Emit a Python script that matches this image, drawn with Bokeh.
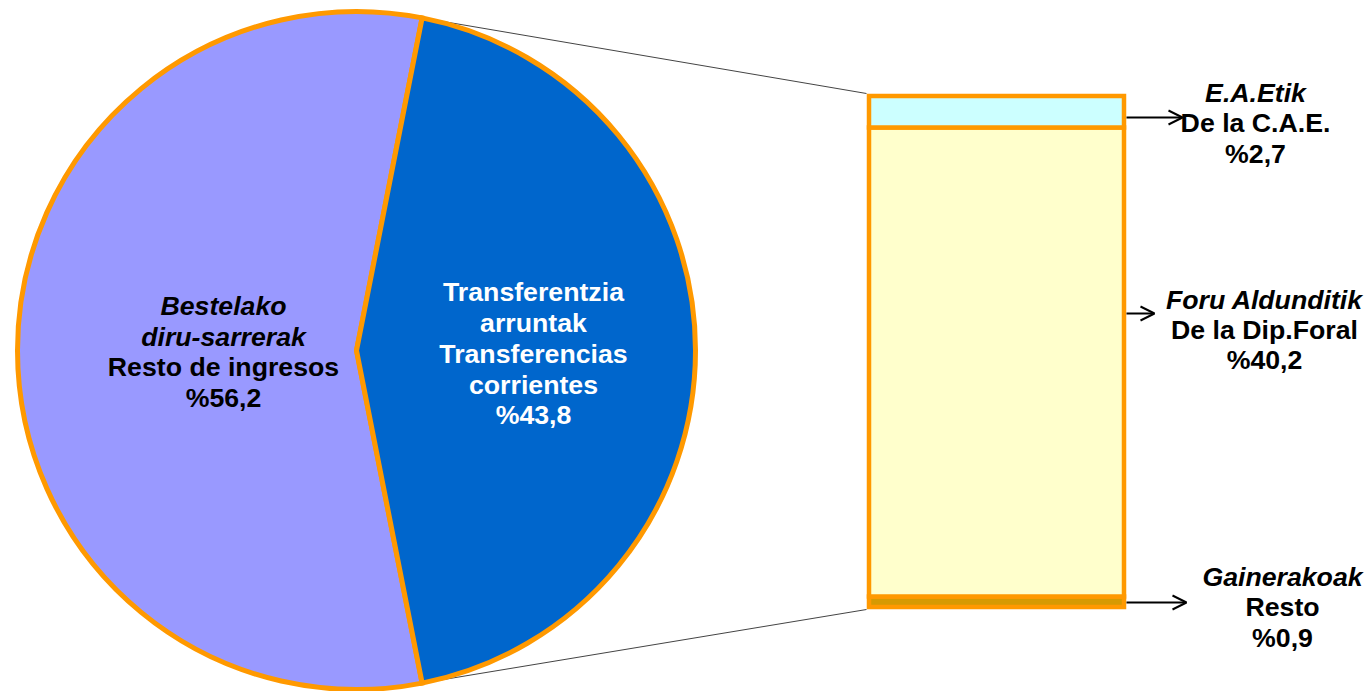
import math
from bokeh.plotting import figure
from bokeh.models import Range1d, Arrow, OpenHead
from bokeh.core.properties import value
from bokeh.embed import file_html
from bokeh.resources import INLINE

# ---------------- data ----------------
pie_categories = ["Bestelako diru-sarrerak / Resto de ingresos",
                  "Transferentzia arruntak / Transferencias corrientes"]
pie_values = [56.2, 43.8]
pie_colors = ["#9999FF", "#0066CC"]

bar_categories = ["Gainerakoak / Resto",
                  "Foru Aldunditik / De la Dip.Foral",
                  "E.A.Etik / De la C.A.E."]
bar_values = [0.9, 40.2, 2.7]          # bottom -> top
bar_colors = ["#D69A02", "#FFFFCC", "#CCFFFF"]

pie_label_italic = [["Bestelako", "diru-sarrerak"], []]
pie_label_plain = [["Resto de ingresos"], ["Transferentzia", "arruntak", "Transferencias", "corrientes"]]
bar_label_italic = ["Gainerakoak", "Foru Aldunditik", "E.A.Etik"]
bar_label_plain = ["Resto", "De la Dip.Foral", "De la C.A.E."]


def pct(v):
    return "%" + f"{v:.1f}".replace(".", ",")


# ---------------- layout ----------------
W, H = 1370, 691
IMG_H = 691


def Y(img_y):
    return IMG_H - img_y


ORANGE = "#FF9900"
FONT = value("Liberation Sans")
FS = "26.7px"

p = figure(width=W, height=H, output_backend="svg", toolbar_location=None,
           x_range=Range1d(0, W), y_range=Range1d(IMG_H - H, IMG_H),
           x_axis_type=None, y_axis_type=None, min_border=0,
           min_border_left=0, min_border_right=0, min_border_top=0, min_border_bottom=0)
p.grid.visible = False
p.outline_line_color = None
p.background_fill_color = "white"
p.border_fill_color = "white"

# pie geometry
CX, CY, R = 356, Y(350), 339
frac = pie_values[1] / sum(pie_values)
half = frac * math.pi
starts = [half, -half]
ends = [2 * math.pi - half, half]

# bar geometry
BX0, BX1 = 868.5, 1123.5
BAR_BASE = Y(606.5)
BAR_SCALE = 511.0 / sum(bar_values)
bottoms, tops = [], []
acc = 0.0
for v in bar_values:
    bottoms.append(BAR_BASE + acc * BAR_SCALE)
    acc += v
    tops.append(BAR_BASE + acc * BAR_SCALE)

# connector lines (pie slice edge points -> bar corners)
top_pt = (CX + R * math.cos(half), CY + R * math.sin(half))
bot_pt = (CX + R * math.cos(-half), CY + R * math.sin(-half))
p.segment(x0=[top_pt[0], bot_pt[0]], y0=[top_pt[1], bot_pt[1]],
          x1=[BX0 - 2.5, BX0 - 2.5], y1=[tops[-1] + 2.5, bottoms[0] - 2.5],
          line_color="#444444", line_width=1)

# pie
p.wedge(x=[CX, CX], y=[CY, CY], radius=R, start_angle=starts, end_angle=ends,
        fill_color=pie_colors, line_color=ORANGE, line_width=5, line_join="miter")

# bar
p.quad(left=[BX0] * 3, right=[BX1] * 3, bottom=bottoms, top=tops,
       fill_color=bar_colors, line_color=ORANGE, line_width=4.5, line_join="miter")

# arrows
arrow_specs = [(602, 1186), (313, 1154), (117, 1182)]
for ay, ax_end in arrow_specs:
    p.add_layout(Arrow(end=OpenHead(size=14, line_width=2, line_color="black"),
                       x_start=BX1 + 2.5, y_start=Y(ay), x_end=ax_end, y_end=Y(ay),
                       line_color="black", line_width=2))


def put(x, ys, texts, style, color="black"):
    p.text(x=[x] * len(texts), y=[Y(v) for v in ys], text=texts,
           text_font=FONT, text_font_size=FS, text_font_style=style,
           text_align="center", text_baseline="middle", text_color=color)


# pie labels
put(223, [305, 336], pie_label_italic[0], "bold italic")
put(223, [366, 397], pie_label_plain[0] + [pct(pie_values[0])], "bold")
put(533, [291, 322, 353, 384, 414], pie_label_plain[1] + [pct(pie_values[1])], "bold", "white")

# bar labels
bar_label_pos = [(1282, [576, 606, 637]), (1264, [299, 329, 359]), (1255, [92, 122, 153])]
for i, (lx, lys) in enumerate(bar_label_pos):
    put(lx, lys[:1], [bar_label_italic[i]], "bold italic")
    put(lx, lys[1:], [bar_label_plain[i], pct(bar_values[i])], "bold")

open("out.html", "w").write(file_html(p, INLINE))
